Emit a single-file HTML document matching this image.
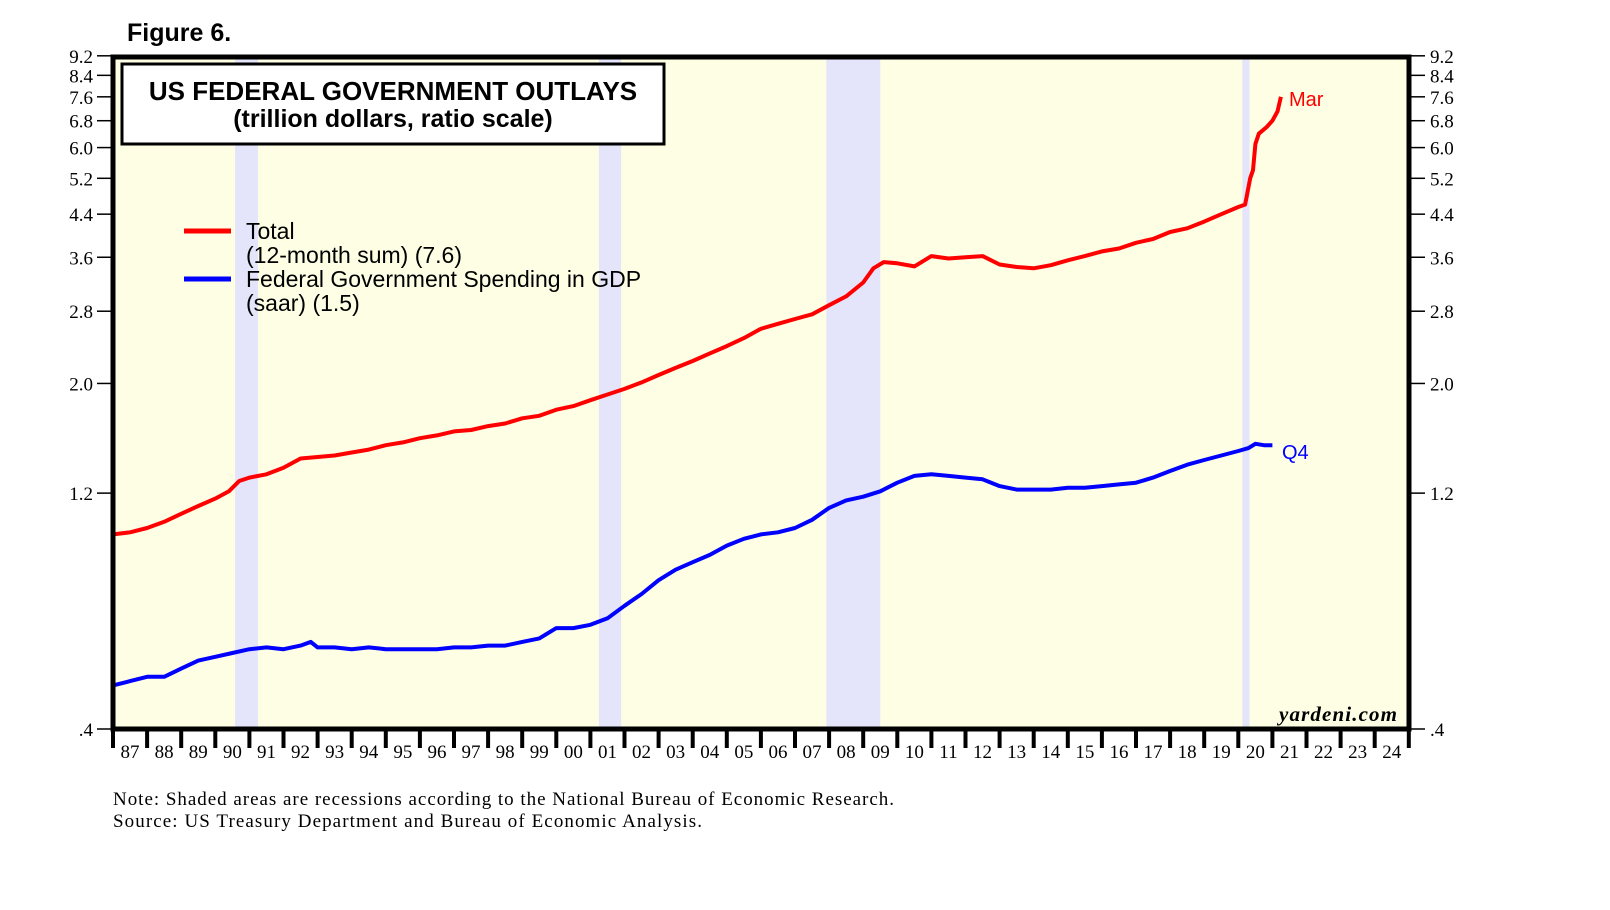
<!DOCTYPE html>
<html><head><meta charset="utf-8"><style>
body{margin:0;background:#fff;width:1610px;height:910px;overflow:hidden}
svg{display:block}
</style></head><body>
<svg id="chart" width="1610" height="910" xmlns="http://www.w3.org/2000/svg">
<text x="127" y="41" font-family="Liberation Sans, sans-serif" font-weight="bold" font-size="25">Figure 6.</text>
<rect x="113" y="57" width="1296" height="672" fill="#fefee4"/>
<g id="rec"></g>
<g id="grid"></g>
<g id="lines"></g>
<rect x="113" y="57" width="1296" height="672" fill="none" stroke="#000" stroke-width="5"/>
<rect x="122" y="64" width="542" height="80" fill="#fff" stroke="#000" stroke-width="3"/>
<text x="393" y="100" text-anchor="middle" font-family="Liberation Sans, sans-serif" font-weight="bold" font-size="26">US FEDERAL GOVERNMENT OUTLAYS</text>
<text x="393" y="127" text-anchor="middle" font-family="Liberation Sans, sans-serif" font-weight="bold" font-size="25">(trillion dollars, ratio scale)</text>
<g font-family="Liberation Sans, sans-serif" font-size="23">
<line x1="184" y1="231" x2="231" y2="231" stroke="#f00" stroke-width="5"/>
<text x="246" y="239">Total</text>
<text x="246" y="263">(12-month sum) (7.6)</text>
<line x1="184" y1="279" x2="231" y2="279" stroke="#00f" stroke-width="5"/>
<text x="246" y="287">Federal Government Spending in GDP</text>
<text x="246" y="311">(saar) (1.5)</text>
</g>
<text x="1289" y="106" fill="#f00" font-family="Liberation Sans, sans-serif" font-size="20">Mar</text>
<text x="1282" y="459" fill="#00f" font-family="Liberation Sans, sans-serif" font-size="20">Q4</text>
<text x="1397" y="721" text-anchor="end" font-family="Liberation Serif, serif" font-style="italic" font-weight="bold" font-size="21" textLength="118">yardeni.com</text>
<text x="113" y="805" font-family="Liberation Serif, serif" font-size="19" textLength="781">Note: Shaded areas are recessions according to the National Bureau of Economic Research.</text>
<text x="113" y="827" font-family="Liberation Serif, serif" font-size="19" textLength="589">Source: US Treasury Department and Bureau of Economic Analysis.</text>
</svg>
<script>
const yTicks=[0.4,1.2,2.0,2.8,3.6,4.4,5.2,6.0,6.8,7.6,8.4,9.2];
const yTickLabels=[".4","1.2","2.0","2.8","3.6","4.4","5.2","6.0","6.8","7.6","8.4","9.2"];
const years=["87","88","89","90","91","92","93","94","95","96","97","98","99","00","01","02","03","04","05","06","07","08","09","10","11","12","13","14","15","16","17","18","19","20","21","22","23","24"];
const recStart=[1990.58,2001.25,2007.92,2020.12];
const recEnd=[1991.25,2001.9,2009.5,2020.33];
const totalDates=[1987,1987.5,1988,1988.5,1989,1989.5,1990,1990.4,1990.7,1991,1991.5,1992,1992.5,1993,1993.5,1994,1994.5,1995,1995.5,1996,1996.5,1997,1997.5,1998,1998.5,1999,1999.5,2000,2000.5,2001,2001.5,2002,2002.5,2003,2003.5,2004,2004.5,2005,2005.5,2006,2006.5,2007,2007.5,2008,2008.5,2009,2009.3,2009.6,2010,2010.5,2011,2011.5,2012,2012.5,2013,2013.5,2014,2014.5,2015,2015.5,2016,2016.5,2017,2017.5,2018,2018.5,2019,2019.5,2020,2020.2,2020.35,2020.43,2020.5,2020.6,2020.83,2021,2021.15,2021.25];
const totalValues=[0.99,1.0,1.02,1.05,1.09,1.13,1.17,1.21,1.27,1.29,1.31,1.35,1.41,1.42,1.43,1.45,1.47,1.50,1.52,1.55,1.57,1.60,1.61,1.64,1.66,1.70,1.72,1.77,1.80,1.85,1.90,1.95,2.01,2.08,2.15,2.22,2.30,2.38,2.47,2.58,2.64,2.70,2.76,2.88,3.00,3.20,3.42,3.52,3.50,3.45,3.62,3.58,3.60,3.62,3.48,3.44,3.42,3.47,3.55,3.62,3.70,3.75,3.85,3.92,4.05,4.12,4.25,4.40,4.55,4.60,5.2,5.4,6.1,6.4,6.6,6.8,7.1,7.6];
const spendDates=[1987,1987.5,1988,1988.5,1989,1989.5,1990,1990.5,1991,1991.5,1992,1992.5,1992.8,1993,1993.5,1994,1994.5,1995,1995.5,1996,1996.5,1997,1997.5,1998,1998.5,1999,1999.5,2000,2000.5,2001,2001.5,2002,2002.5,2003,2003.5,2004,2004.5,2005,2005.5,2006,2006.5,2007,2007.5,2008,2008.5,2009,2009.5,2010,2010.5,2011,2011.5,2012,2012.5,2013,2013.5,2014,2014.5,2015,2015.5,2016,2016.5,2017,2017.5,2018,2018.5,2019,2019.5,2020,2020.3,2020.5,2020.75,2021];
const spendValues=[0.49,0.50,0.51,0.51,0.53,0.55,0.56,0.57,0.58,0.585,0.58,0.59,0.60,0.585,0.585,0.58,0.585,0.58,0.58,0.58,0.58,0.585,0.585,0.59,0.59,0.60,0.61,0.64,0.64,0.65,0.67,0.71,0.75,0.80,0.84,0.87,0.90,0.94,0.97,0.99,1.00,1.02,1.06,1.12,1.16,1.18,1.21,1.26,1.30,1.31,1.30,1.29,1.28,1.24,1.22,1.22,1.22,1.23,1.23,1.24,1.25,1.26,1.29,1.33,1.37,1.40,1.43,1.46,1.48,1.51,1.50,1.50];
const NS='http://www.w3.org/2000/svg';
const X0=113,YR0=1987,PX=34.1,Y0=729,YK=214.7;
function xs(d){return X0+(d-YR0)*PX;}
function ys(v){return Y0-Math.log(v/0.4)*YK;}
function mk(tag,attrs,parent){const e=document.createElementNS(NS,tag);for(const k in attrs)e.setAttribute(k,attrs[k]);parent.appendChild(e);return e;}
const rec=document.getElementById('rec'),grid=document.getElementById('grid'),lines=document.getElementById('lines');
for(let i=0;i<recStart.length;i++){
 const r=mk('rect',{x:xs(recStart[i]),y:57,width:xs(recEnd[i])-xs(recStart[i]),height:672,fill:'#e4e4fa'},rec);
 
 
}
yTicks.forEach((v,i)=>{
 const y=ys(v);
 const l1=mk('line',{x1:97,x2:113,y1:y,y2:y,stroke:'#000','stroke-width':1.5},grid);
 
 
 const l2=mk('line',{x1:1409,x2:1425,y1:y,y2:y,stroke:'#000','stroke-width':1.5},grid);
 
 
 const t1=mk('text',{x:93,y:y+7,'text-anchor':'end','font-family':'Liberation Serif, serif','font-size':19},grid);
 t1.textContent=yTickLabels[i];
 
 
 const t2=mk('text',{x:1430,y:y+7,'font-family':'Liberation Serif, serif','font-size':19},grid);
 t2.textContent=yTickLabels[i];
 
 
});
years.forEach((lab,i)=>{
 const x=xs(YR0+i);
 const tk=mk('line',{x1:x,x2:x,y1:729,y2:748,stroke:'#000','stroke-width':4},grid);
 
 
 const t=mk('text',{x:x+PX/2,y:758,'text-anchor':'middle','font-family':'Liberation Serif, serif','font-size':19},grid);
 t.textContent=lab;
 
 
});
const lastTk=mk('line',{x1:xs(YR0+years.length),x2:xs(YR0+years.length),y1:729,y2:748,stroke:'#000','stroke-width':4},grid);


function path(d,v){return d.map((t,i)=>(i?'L':'M')+xs(t).toFixed(1)+','+ys(v[i]).toFixed(1)).join('');}
const p1=mk('path',{d:path(totalDates,totalValues),fill:'none',stroke:'#f00','stroke-width':4,'stroke-linejoin':'round'},lines);


const p2=mk('path',{d:path(spendDates,spendValues),fill:'none',stroke:'#00f','stroke-width':4,'stroke-linejoin':'round'},lines);


</script>
</body></html>
